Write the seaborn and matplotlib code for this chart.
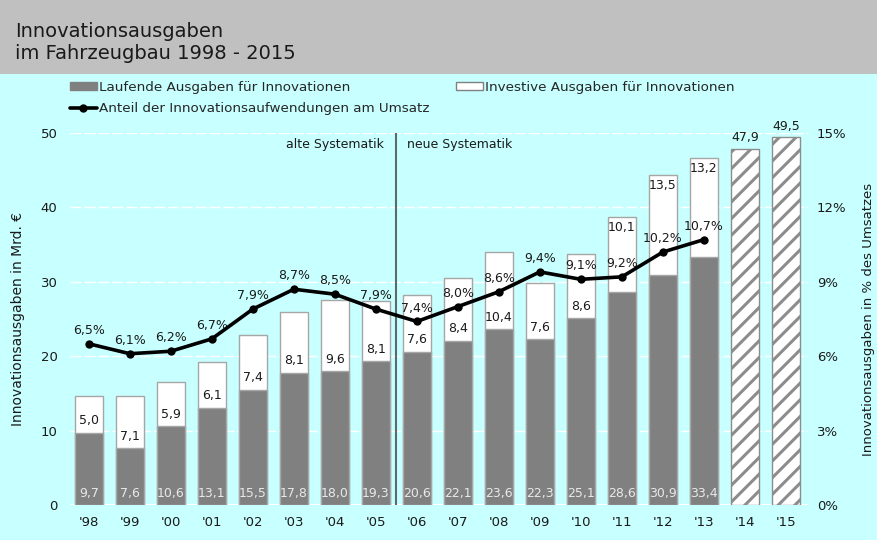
import numpy as np
import matplotlib.pyplot as plt
import seaborn as sns
from matplotlib.patches import Patch, Rectangle
from matplotlib.lines import Line2D

# =====================================================================
# Daten
# =====================================================================
jahre = ["'98", "'99", "'00", "'01", "'02", "'03", "'04", "'05", "'06",
         "'07", "'08", "'09", "'10", "'11", "'12", "'13", "'14", "'15"]
laufend = [9.7, 7.6, 10.6, 13.1, 15.5, 17.8, 18.0, 19.3, 20.6,
           22.1, 23.6, 22.3, 25.1, 28.6, 30.9, 33.4]
investiv = [5.0, 7.1, 5.9, 6.1, 7.4, 8.1, 9.6, 8.1, 7.6,
            8.4, 10.4, 7.6, 8.6, 10.1, 13.5, 13.2]
plan = [47.9, 49.5]
anteil = [6.5, 6.1, 6.2, 6.7, 7.9, 8.7, 8.5, 7.9, 7.4,
          8.0, 8.6, 9.4, 9.1, 9.2, 10.2, 10.7]
n_alt = 8  # '98 - '05 alte Systematik


def de(v):
    return f"{v:.1f}".replace('.', ',')


# =====================================================================
# Stil
# =====================================================================
sns.set_style("white")
plt.rcParams['font.family'] = ['DejaVu Sans']
plt.rcParams['hatch.linewidth'] = 2.2
plt.rcParams['hatch.color'] = '#8c8c8c'

BG = '#c8ffff'
GRAU = '#808080'
RAND = '#a6a6a6'
TXT = '#1a1a1a'

fig = plt.figure(figsize=(8.77, 5.40), dpi=100, facecolor=BG)
fig.add_artist(Rectangle((0, 1 - 74 / 540), 1, 74 / 540, transform=fig.transFigure,
                         facecolor='#c0c0c0', edgecolor='none', zorder=0))
fig.text(15 / 877, 1 - 37 / 540, "Innovationsausgaben", fontsize=14,
         va='baseline', ha='left', color=TXT)
fig.text(15 / 877, 1 - 59 / 540, "im Fahrzeugbau 1998 - 2015", fontsize=14,
         va='baseline', ha='left', color=TXT)

ax = fig.add_axes([70 / 877, 1 - 505 / 540, 738 / 877, 372 / 540])
ax.set_facecolor(BG)

pos = np.arange(len(jahre))
ist = pos[:len(laufend)]
gesamt = np.array(laufend) + np.array(investiv)

# Balken: gesamt (weiss), laufend (grau) darueber, Planwerte schraffiert
sns.barplot(x=ist, y=gesamt, native_scale=True, color='white', edgecolor=RAND,
            linewidth=1, width=0.68, saturation=1, errorbar=None, ax=ax, zorder=2)
sns.barplot(x=ist, y=laufend, native_scale=True, color=GRAU, edgecolor=RAND,
            linewidth=1, width=0.68, saturation=1, errorbar=None, ax=ax, zorder=3)
sns.barplot(x=pos[len(laufend):], y=plan, native_scale=True, color='white',
            edgecolor='#8c8c8c', hatch='//', linewidth=1, width=0.68,
            saturation=1, errorbar=None, ax=ax, zorder=2)

ax.set_xlim(-0.46, len(jahre) - 0.46)
ax.set_ylim(0, 50)
ax.set_yticks(range(0, 51, 10))
ax.set_xticks(pos, jahre)
ax.set_axisbelow(True)
ax.yaxis.grid(True, color='white', linestyle=(0, (8, 2)), linewidth=1)
ax.axhline(0, color='white', lw=1.3, zorder=1)
ax.tick_params(length=0, labelsize=9.5, colors=TXT)
ax.tick_params(axis='x', pad=8)
ax.tick_params(axis='y', pad=9)
for s in ax.spines.values():
    s.set_visible(False)

# Trennlinie alte / neue Systematik
ax.axvline(n_alt - 0.5, color='#5b6b6b', lw=1.5, zorder=4)
ax.text(n_alt - 0.5 - 0.3, 48.5, 'alte Systematik', ha='right', va='center',
        fontsize=9, color=TXT)
ax.text(n_alt - 0.5 + 0.27, 48.5, 'neue Systematik', ha='left', va='center',
        fontsize=9, color=TXT)

# Beschriftungen Balken
for i, (l, v) in enumerate(zip(laufend, investiv)):
    ax.text(i, 1.6, de(l), ha='center', va='center', fontsize=9, color='#e8e8e8', zorder=5)
    linie = anteil[i] * 50 / 15
    if linie < l + v / 2 - 1:
        y = l + v - 1.4
    else:
        y = l + 1.6
    ax.text(i, y, de(v), ha='center', va='center', fontsize=9, color=TXT, zorder=5)

for k, v in enumerate(plan):
    ax.annotate(de(v), (len(laufend) + k, v), xytext=(0, 3), textcoords='offset points',
                ha='center', va='bottom', fontsize=9, color=TXT)

ax.set_ylabel('Innovationsausgaben in Mrd. €', fontsize=10, color=TXT)
ax.yaxis.set_label_coords(-0.061, 0.5)

# Anteil am Umsatz (rechte Achse)
ax2 = ax.twinx()
sns.lineplot(x=ist, y=anteil, ax=ax2, color='black', lw=2.6, marker='o',
             markersize=6, markeredgewidth=0, zorder=6)
ax2.set_ylim(0, 15)
ax2.set_yticks(range(0, 16, 3), [f"{t}%" for t in range(0, 16, 3)])
ax2.tick_params(length=0, labelsize=9.5, colors=TXT, pad=6.5)
for s in ax2.spines.values():
    s.set_visible(False)
for i, p in enumerate(anteil):
    ax2.annotate(f"{de(p)}%", (i, p), xytext=(0, 5), textcoords='offset points',
                 ha='center', va='bottom', fontsize=9, color=TXT)
ax2.set_ylabel('Innovationsausgaben in % des Umsatzes', fontsize=9.5, color=TXT)
ax2.yaxis.set_label_coords(1.0725, 0.5)

# Legende
handles = [Patch(facecolor=GRAU, edgecolor=GRAU),
           Line2D([], [], color='black', lw=2.6, marker='o', ms=6, markeredgewidth=0),
           Patch(facecolor='white', edgecolor='#808080')]
labels = ['Laufende Ausgaben für Innovationen',
          'Anteil der Innovationsaufwendungen am Umsatz',
          'Investive Ausgaben für Innovationen']
fig.legend(handles, labels, ncol=2, loc='upper left', bbox_to_anchor=(70 / 877, 1 - 81 / 540),
           frameon=False, fontsize=9.7, handlelength=2.0, handleheight=0.5,
           handletextpad=0.15, columnspacing=2.0, labelspacing=0.6,
           borderpad=0, borderaxespad=0)

fig.savefig('out.png', dpi=100, facecolor=BG)
